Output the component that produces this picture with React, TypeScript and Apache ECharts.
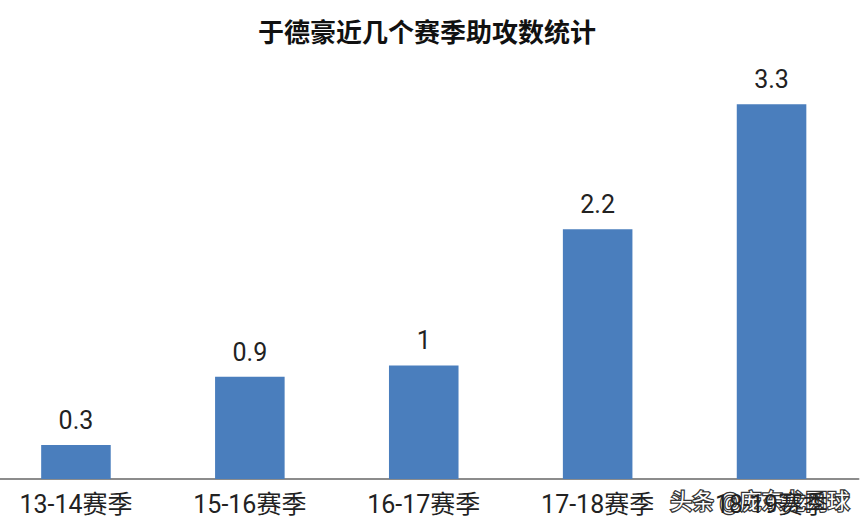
import React, { useEffect, useRef } from "react";
import * as echarts from "echarts";

const categories = ["13-14赛季", "15-16赛季", "16-17赛季", "17-18赛季", "18-19赛季"];
const assists = [0.3, 0.9, 1, 2.2, 3.3];
const titleText = "于德豪近几个赛季助攻数统计";
const watermark = "头条 @庞东龙网球";

const FONT = "Roboto, 'Noto Sans CJK SC', sans-serif";

export default function App() {
  const ref = useRef<HTMLDivElement>(null);
  useEffect(() => {
    if (!ref.current) return;
    const chart = echarts.init(ref.current, undefined, { renderer: "svg" });
    chart.setOption({
      animation: false,
      backgroundColor: "#ffffff",
      title: {
        text: titleText,
        left: "center",
        top: 15,
        textStyle: { fontFamily: FONT, fontSize: 26, fontWeight: "bold", color: "#111" },
      },
      grid: { left: 0, right: 6.5, top: 81.5, bottom: 52, containLabel: false },
      xAxis: {
        type: "category",
        data: categories,
        axisLine: { show: true, lineStyle: { color: "#8c8c8c", width: 2 } },
        axisTick: { show: false },
        axisLabel: { fontFamily: FONT, fontSize: 25, color: "#222", margin: 13, interval: 0 },
      },
      yAxis: {
        type: "value",
        min: 0,
        max: 3.5,
        show: false,
        splitLine: { show: false },
      },
      series: [
        {
          type: "bar",
          data: assists,
          barWidth: "40%",
          itemStyle: { color: "#4a7ebd" },
          label: {
            show: true,
            position: "top",
            distance: 12,
            fontFamily: FONT,
            fontSize: 25,
            color: "#222",
          },
        },
      ],
      graphic: [
        {
          type: "text",
          left: 680,
          top: 489,
          style: {
            text: watermark,
            fontFamily: FONT,
            fontSize: 22,
            fill: "#ffffff",
            stroke: "#333333",
            lineWidth: 2.5,
          },
        },
      ],
    });
    return () => chart.dispose();
  }, []);
  return <div ref={ref} style={{ width: 876, height: 531, position: "absolute", left: -11, top: 0 }} />;
}
